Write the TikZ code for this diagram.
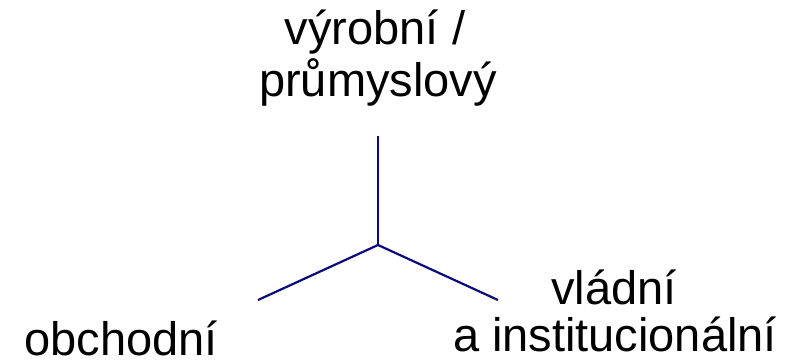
\documentclass[tikz,border=0pt]{standalone}
\usepackage{fontspec}
\setmainfont{Liberation Sans}
\definecolor{branchblue}{RGB}{10,10,120}
\begin{document}
\begin{tikzpicture}[x=1pt,y=1pt,
  label/.style={inner sep=0pt, font=\fontsize{47}{52}\selectfont, align=center},
  branch/.style={draw=branchblue, line width=2.2pt}]
  \useasboundingbox (0,0) rectangle (787,364);
  % junction of the three branches and their free ends
  \coordinate (J) at (378,119);
  \coordinate (T) at (378,228);
  \coordinate (L) at (258,64);
  \coordinate (R) at (498,64);
  \draw[branch] (J) -- (T);
  \draw[branch] (J) -- (L);
  \draw[branch] (J) -- (R);
  % sector labels
  \node[label, anchor=base] (top1) at (375,319) {výrobní /};
  \node[label, anchor=base] (top2) at (378,267) {průmyslový};
  \node[label, anchor=base] (left) at (121,9) {obchodní};
  \node[label, anchor=base] (right1) at (614,59) {vládní};
  \node[label, anchor=base] (right2) at (615,12) {a institucionální};
\end{tikzpicture}
\end{document}
